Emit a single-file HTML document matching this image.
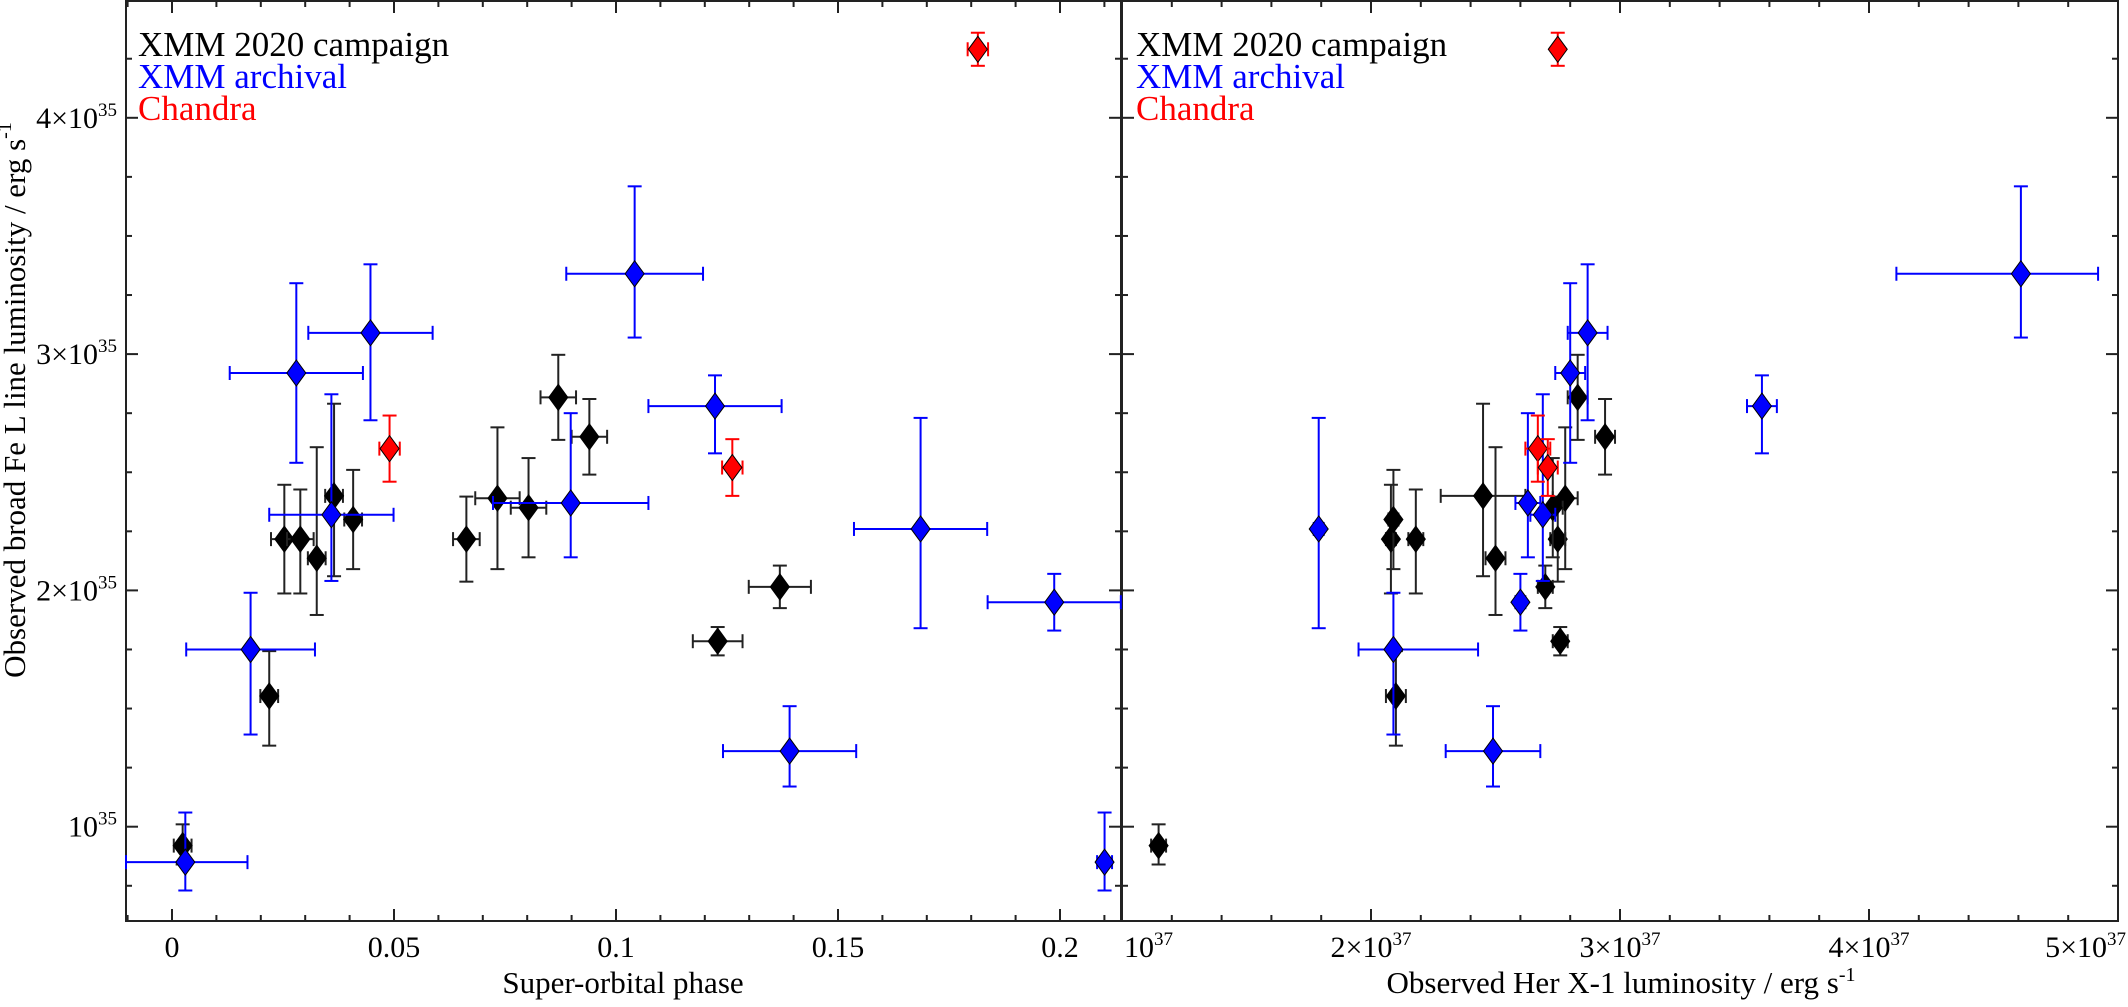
<!DOCTYPE html>
<html><head><meta charset="utf-8">
<style>
html,body{margin:0;padding:0;background:#fff;}
svg{display:block;}
svg text{font-family:"Liberation Serif","DejaVu Serif",serif;}
</style></head>
<body>
<svg id="chart" width="2128" height="1007" viewBox="0 0 2128 1007" xmlns="http://www.w3.org/2000/svg" font-family="Liberation Serif, serif">
<g id="axes"></g>
<g id="marks"></g>
<g id="labels" font-family="Liberation Serif, serif">
  <text x="18" y="400" transform="rotate(-90 18 400)" text-anchor="middle" dominant-baseline="middle" font-size="31">Observed broad Fe L line luminosity / erg s<tspan dy="-12" font-size="20">-1</tspan></text>
  <text x="623" y="993" text-anchor="middle" font-size="31">Super-orbital phase</text>
  <text x="1621" y="993" text-anchor="middle" font-size="31">Observed Her X-1 luminosity / erg s<tspan dy="-12" font-size="20">-1</tspan></text>
  <g>
    <text x="138" y="56" font-size="35" fill="#000">XMM 2020 campaign</text>
    <text x="138" y="88" font-size="35" fill="#0000ff">XMM archival</text>
    <text x="138" y="120" font-size="35" fill="#ff0000">Chandra</text>
  </g>
  <g>
    <text x="1136" y="56" font-size="35" fill="#000">XMM 2020 campaign</text>
    <text x="1136" y="88" font-size="35" fill="#0000ff">XMM archival</text>
    <text x="1136" y="120" font-size="35" fill="#ff0000">Chandra</text>
  </g>
</g>
</svg>
<script>
// ---- data (L in 1e35 erg/s, lum in 1e37 erg/s) ----
const blackPhase = [0.0024,0.0219,0.0253,0.0289,0.0326,0.0365,0.0408,0.0663,0.0733,0.0803,0.0870,0.0940,0.1229,0.1369];
const blackPhaseErr = [0.002,0.002,0.003,0.003,0.002,0.002,0.002,0.003,0.005,0.004,0.004,0.004,0.0056,0.007];
const blackL = [0.92,1.553,2.217,2.217,2.136,2.40,2.30,2.217,2.39,2.35,2.817,2.65,1.785,2.015];
const blackLErrUp = [0.09,0.19,0.23,0.21,0.47,0.39,0.21,0.18,0.30,0.21,0.18,0.16,0.06,0.09];
const blackLErrDn = [0.08,0.21,0.23,0.23,0.24,0.34,0.21,0.18,0.30,0.21,0.18,0.16,0.06,0.09];
const blackLum = [1.147,2.10,2.08,2.18,2.50,2.45,2.09,2.75,2.78,2.73,2.83,2.94,2.76,2.70];
const blackLumErrLo = [0.03,0.04,0.02,0.03,0.04,0.17,0.02,0.03,0.05,0.04,0.04,0.04,0.03,0.03];
const blackLumErrHi = [0.03,0.04,0.02,0.03,0.04,0.17,0.02,0.03,0.05,0.04,0.04,0.04,0.03,0.03];

const bluePhase = [0.003,0.0177,0.0280,0.0359,0.0447,0.0898,0.1042,0.1223,0.1391,0.1686,0.1987];
const bluePhaseErr = [0.014,0.0145,0.015,0.014,0.014,0.0175,0.0154,0.015,0.015,0.015,0.015];
const blueL = [0.85,1.75,2.92,2.32,3.09,2.37,3.34,2.78,1.32,2.26,1.95];
const blueLErrUp = [0.21,0.24,0.38,0.51,0.29,0.38,0.37,0.13,0.19,0.47,0.12];
const blueLErrDn = [0.12,0.36,0.38,0.28,0.37,0.23,0.27,0.20,0.15,0.42,0.12];
const blueLum = [0.93,2.09,2.80,2.69,2.87,2.63,4.61,3.57,2.49,1.79,2.60];
const blueLumErrLo = [0.03,0.14,0.06,0.05,0.08,0.05,0.50,0.06,0.19,0.02,0.02];
const blueLumErrHi = [0.03,0.34,0.06,0.05,0.08,0.05,0.31,0.06,0.19,0.02,0.02];

const redPhase = [0.0490,0.1262,0.1815];
const redPhaseErr = [0.0023,0.0023,0.0023];
const redL = [2.60,2.52,4.29];
const redLErrUp = [0.14,0.12,0.07];
const redLErrDn = [0.14,0.12,0.07];
const redLum = [2.67,2.71,2.75];
const redLumErrLo = [0.05,0.04,0.01];
const redLumErrHi = [0.05,0.04,0.01];

const phaseTicks = [0,0.05,0.1,0.15,0.2];
const phaseTickLabels = ["0","0.05","0.1","0.15","0.2"];
const lumTicks = [1,2,3,4,5];
const lumTickMant = ["","2×","3×","4×","5×"];
const yTicks = [1,2,3,4];
const yTickMant = ["","2×","3×","4×"];

// ---- axis functions ----
const TOP=1, BOT=921, LX0=126, LX1=1121, RX0=1122, RX1=2118;
const PH0=-0.0104, PH1=0.2137, LV0=0.6004, LV1=4.4942;
function yS(v){return 1063-236.3*v;}
function xPhase(p){return 172+4440*p;}
function xLum(l){return 1122+249*(l-1);}

const NS="http://www.w3.org/2000/svg";
function mk(tag,attrs,parent){const e=document.createElementNS(NS,tag);for(const k in attrs)e.setAttribute(k,attrs[k]);parent.appendChild(e);return e;}
const axes=document.getElementById('axes');
const marks=document.getElementById('marks');

const f1=mk('rect',{x:LX0,y:TOP,width:LX1-LX0,height:BOT-TOP,fill:'none',stroke:'#222','stroke-width':2},axes);


const f2=mk('rect',{x:RX0,y:TOP,width:RX1-RX0,height:BOT-TOP,fill:'none',stroke:'#222','stroke-width':2},axes);



function tickLine(x1,y1,x2,y2){const t=mk('line',{x1:x1,y1:y1,x2:x2,y2:y2,stroke:'#222','stroke-width':2},axes);

}

for(let i=0;i<=20;i++){const v=0.75+i*0.25; if(v<LV0||v>LV1)continue; const y=yS(v); const major=Math.abs(v-Math.round(v))<1e-6; const len=major?12:6;
  tickLine(LX0,y,LX0+len,y); tickLine(LX1-len,y,LX1,y);
  tickLine(RX0,y,RX0+len,y); tickLine(RX1-len,y,RX1,y);}
for(let i=-1;i<=21;i++){const p=i*0.01; if(p<PH0||p>PH1)continue; const x=xPhase(p); const len=(i%5===0)?12:6;
  tickLine(x,BOT,x,BOT-len); tickLine(x,TOP,x,TOP+len);}
for(let i=0;i<=20;i++){const l=1+i*0.2; const x=xLum(l); const len=(i%5===0)?12:6;
  tickLine(x,BOT,x,BOT-len); tickLine(x,TOP,x,TOP+len);}

const labels=document.getElementById('labels');
phaseTicks.forEach((p,i)=>{const t=mk('text',{x:xPhase(p),y:957,'text-anchor':'middle','font-size':30},labels);
  t.textContent=phaseTickLabels[i];
  
  });
lumTicks.forEach((l,i)=>{let x=xLum(l); let anchor='middle'; if(i===0){x=xLum(l)+2;anchor='start';} if(i===lumTicks.length-1){x=2126;anchor='end';}
  const t=mk('text',{x:x,y:957,'text-anchor':anchor,'font-size':30},labels);
  t.textContent=lumTickMant[i]+'10';
  const s=mk('tspan',{dy:-12,'font-size':19},t); s.textContent='37';
  
  });
yTicks.forEach((v,i)=>{const t=mk('text',{x:117,y:yS(v)+10,'text-anchor':'end','font-size':30},labels);
  t.textContent=yTickMant[i]+'10';
  const s=mk('tspan',{dy:-12,'font-size':19},t); s.textContent='35';
  
  });

function drawPoint(x,y,xl,xh,yt,yb,color,name){
  const g=mk('g',{},marks);
  
  
  const sw=2, cap=7;
  mk('line',{x1:xl,y1:y,x2:xh,y2:y,stroke:color,'stroke-width':sw},g);
  mk('line',{x1:xl,y1:y-cap,x2:xl,y2:y+cap,stroke:color,'stroke-width':sw},g);
  mk('line',{x1:xh,y1:y-cap,x2:xh,y2:y+cap,stroke:color,'stroke-width':sw},g);
  mk('line',{x1:x,y1:yt,x2:x,y2:yb,stroke:color,'stroke-width':sw},g);
  mk('line',{x1:x-cap,y1:yt,x2:x+cap,y2:yt,stroke:color,'stroke-width':sw},g);
  mk('line',{x1:x-cap,y1:yb,x2:x+cap,y2:yb,stroke:color,'stroke-width':sw},g);
  const fill=color==='#222'?'#000':color;
  mk('polygon',{points:`${x},${y-13} ${x+9.5},${y} ${x},${y+13} ${x-9.5},${y}`,fill:fill,stroke:'#000','stroke-width':1},g);
}
function drawSeries(ph,phE,L,Lu,Ld,lum,lumLo,lumHi,color,base){
  for(let i=0;i<ph.length;i++){
    drawPoint(xPhase(ph[i]),yS(L[i]),Math.max(LX0,xPhase(ph[i]-phE[i])),Math.min(LX1,xPhase(ph[i]+phE[i])),yS(L[i]+Lu[i]),yS(L[i]-Ld[i]),color,base+'-phase-point');
    drawPoint(xLum(lum[i]),yS(L[i]),xLum(lum[i]-lumLo[i]),xLum(lum[i]+lumHi[i]),yS(L[i]+Lu[i]),yS(L[i]-Ld[i]),color,base+'-luminosity-point');
  }
}
drawSeries(blackPhase,blackPhaseErr,blackL,blackLErrUp,blackLErrDn,blackLum,blackLumErrLo,blackLumErrHi,'#222','xmm-2020');
drawSeries(bluePhase,bluePhaseErr,blueL,blueLErrUp,blueLErrDn,blueLum,blueLumErrLo,blueLumErrHi,'#0000ff','xmm-archival');
drawSeries(redPhase,redPhaseErr,redL,redLErrUp,redLErrDn,redLum,redLumErrLo,redLumErrHi,'#ff0000','chandra');
</script>
</body></html>
